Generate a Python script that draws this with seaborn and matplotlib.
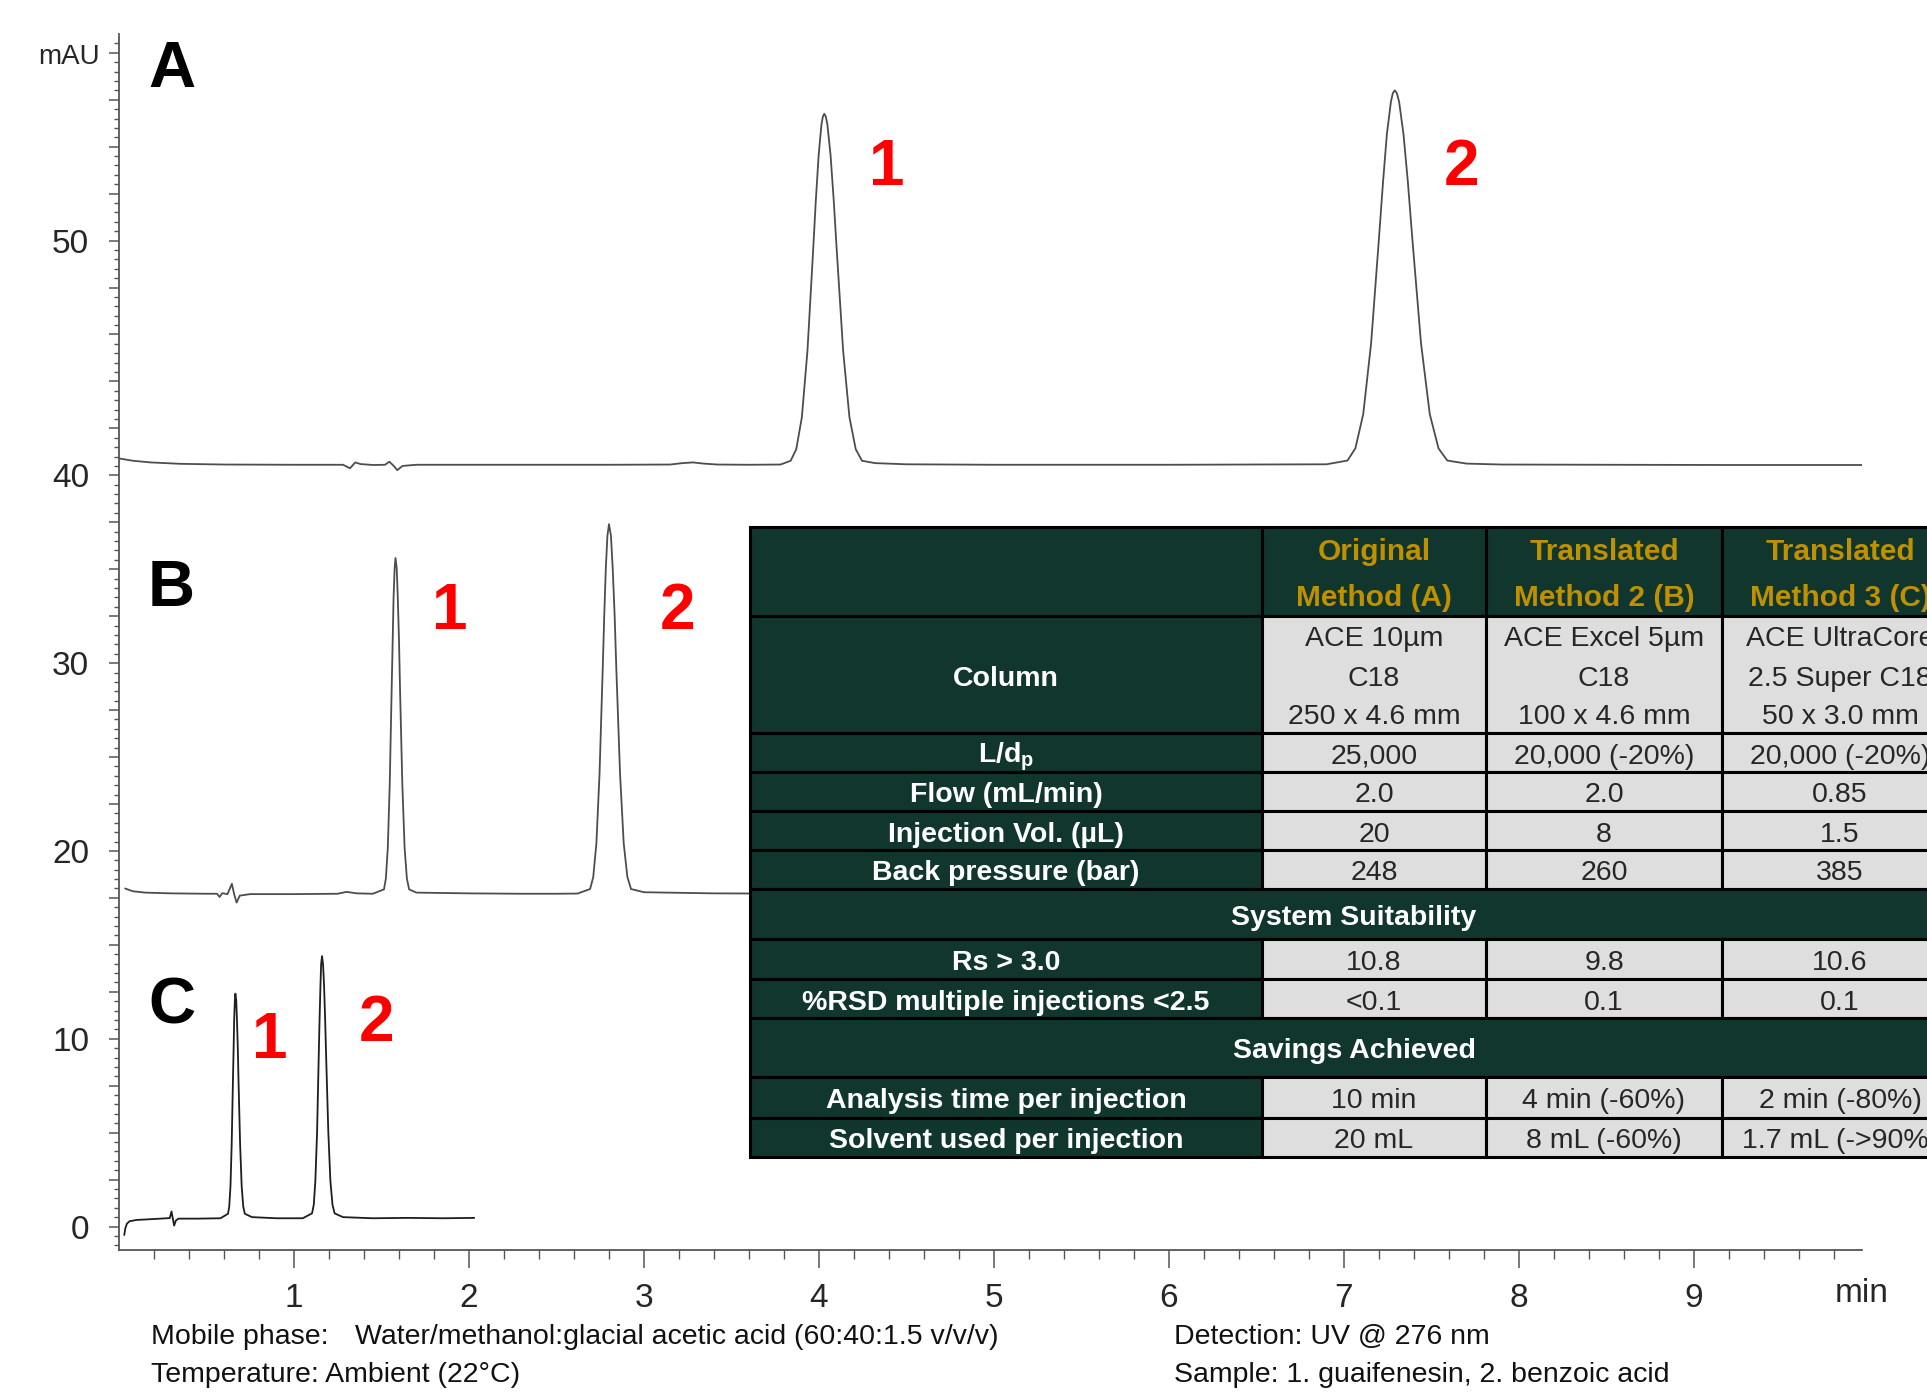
import numpy as np
import pandas as pd
import matplotlib
matplotlib.use("Agg")
import matplotlib.pyplot as plt
import seaborn as sns
from matplotlib.patches import Rectangle
from matplotlib.ticker import FixedLocator

# ── Chromatogram traces (time in min, signal in mAU) ──────────────────────────
time_a = [0.00, 0.08, 0.18, 0.35, 0.60, 1.00, 1.28, 1.32, 1.35, 1.38, 1.45, 1.52,
          1.545, 1.57, 1.59, 1.62, 1.70, 2.20, 2.80, 3.15, 3.22, 3.28, 3.34, 3.42,
          3.60, 3.78,
          3.838, 3.870, 3.902, 3.934, 3.966, 3.982, 3.998, 4.014, 4.022, 4.030, 4.039,
          4.048, 4.066, 4.084, 4.102, 4.138, 4.174, 4.210, 4.246,
          4.32, 4.50, 5.00, 6.00, 6.90,
          7.020, 7.065, 7.110, 7.155, 7.200, 7.223, 7.245, 7.268, 7.279, 7.290, 7.302,
          7.315, 7.340, 7.365, 7.390, 7.440, 7.490, 7.540, 7.590,
          7.70, 7.90, 8.50, 9.20, 9.97]
mau_a = [40.72, 40.62, 40.55, 40.49, 40.46, 40.45, 40.45, 40.30, 40.55, 40.48, 40.44, 40.45,
         40.58, 40.40, 40.22, 40.40, 40.45, 40.45, 40.45, 40.46, 40.52, 40.55, 40.50, 40.46,
         40.45, 40.46,
         40.62, 41.11, 42.47, 45.30, 49.52, 51.73, 53.64, 54.94, 55.28, 55.40, 55.28,
         54.94, 53.64, 51.73, 49.52, 45.30, 42.47, 41.11, 40.62,
         40.52, 40.47, 40.45, 40.45, 40.47,
         40.63, 41.15, 42.61, 45.63, 50.12, 52.49, 54.53, 55.91, 56.28, 56.40, 56.28,
         55.91, 54.53, 52.49, 50.12, 45.63, 42.61, 41.15, 40.63,
         40.50, 40.46, 40.45, 40.44, 40.44]

time_b = [0.035, 0.08, 0.15, 0.30, 0.50, 0.56, 0.575, 0.59, 0.62, 0.645, 0.658, 0.672,
          0.69, 0.75, 1.00, 1.25, 1.30, 1.36, 1.45,
          1.514, 1.525, 1.536, 1.547, 1.558, 1.564, 1.569, 1.575, 1.580, 1.587,
          1.593, 1.600, 1.606, 1.619, 1.632, 1.645, 1.658,
          1.70, 2.00, 2.30, 2.50, 2.62,
          2.692, 2.710, 2.728, 2.746, 2.764, 2.773, 2.782, 2.791, 2.800, 2.811,
          2.821, 2.832, 2.842, 2.863, 2.884, 2.905, 2.926,
          3.00, 3.40, 4.00]
mau_b = [18.00, 17.85, 17.78, 17.74, 17.72, 17.72, 17.55, 17.75, 17.70, 18.25, 17.70, 17.25,
         17.62, 17.70, 17.70, 17.72, 17.82, 17.74, 17.72,
         17.95, 18.53, 20.17, 23.55, 28.58, 31.22, 33.50, 35.05, 35.60, 35.05,
         33.50, 31.22, 28.58, 23.55, 20.17, 18.53, 17.95,
         17.78, 17.74, 17.72, 17.72, 17.73,
         17.97, 18.61, 20.41, 24.13, 29.67, 32.58, 35.09, 36.79, 37.40, 36.79,
         35.09, 32.58, 29.67, 24.13, 20.41, 18.61, 17.97,
         17.80, 17.74, 17.72]

time_c = [0.030, 0.036, 0.045, 0.06, 0.10, 0.20, 0.29, 0.300, 0.315, 0.325, 0.34, 0.45, 0.58,
          0.623, 0.630, 0.637, 0.644, 0.651, 0.655, 0.658, 0.662, 0.665, 0.670,
          0.674, 0.679, 0.683, 0.692, 0.701, 0.710, 0.719,
          0.76, 0.90, 1.05,
          1.103, 1.113, 1.122, 1.132, 1.141, 1.146, 1.151, 1.155, 1.160, 1.166,
          1.172, 1.178, 1.184, 1.196, 1.208, 1.220, 1.232,
          1.28, 1.45, 1.65, 1.85, 2.03]
mau_c = [-0.45, -0.10, 0.15, 0.28, 0.35, 0.40, 0.45, 0.80, 0.05, 0.32, 0.42, 0.42, 0.44,
         0.68, 1.07, 2.15, 4.40, 7.74, 9.49, 11.01, 12.03, 12.40, 12.03,
         11.01, 9.49, 7.74, 4.40, 2.15, 1.07, 0.68,
         0.50, 0.44, 0.44,
         0.70, 1.16, 2.42, 5.05, 8.95, 11.00, 12.77, 13.97, 14.40, 13.97,
         12.77, 11.00, 8.95, 5.05, 2.42, 1.16, 0.70,
         0.50, 0.44, 0.46, 0.44, 0.46]

run_labels = ["A", "B", "C"]
peak_labels = ["1", "2"]
x_ticks = [1, 2, 3, 4, 5, 6, 7, 8, 9]
y_tick_labels = [0, 10, 20, 30, 40, 50]

# ── Method comparison table ───────────────────────────────────────────────────
method_headers = ["Original\nMethod (A)", "Translated\nMethod 2 (B)", "Translated\nMethod 3 (C)"]
param_labels = ["Column", "L/d$_\\mathregular{p}$", "Flow (mL/min)",
                "Injection Vol. (µL)", "Back pressure (bar)"]
param_a = ["ACE 10µm\nC18\n250 x 4.6 mm", "25,000", "2.0", "20", "248"]
param_b = ["ACE Excel 5µm\nC18\n100 x 4.6 mm", "20,000 (-20%)", "2.0", "8", "260"]
param_c = ["ACE UltraCore\n2.5 Super C18\n50 x 3.0 mm", "20,000 (-20%)", "0.85", "1.5", "385"]
suit_labels = ["Rs > 3.0", "%RSD multiple injections <2.5"]
suit_a = ["10.8", "<0.1"]
suit_b = ["9.8", "0.1"]
suit_c = ["10.6", "0.1"]
save_labels = ["Analysis time per injection", "Solvent used per injection"]
save_a = ["10 min", "20 mL"]
save_b = ["4 min (-60%)", "8 mL (-60%)"]
save_c = ["2 min (-80%)", "1.7 mL (->90%)"]

notes_left = ["Mobile phase:", "Temperature: Ambient (22°C)"]
mobile_phase = "Water/methanol:glacial acetic acid (60:40:1.5 v/v/v)"
notes_right = ["Detection: UV @ 276 nm", "Sample: 1. guaifenesin, 2. benzoic acid"]

# ── Style ─────────────────────────────────────────────────────────────────────
sns.set_theme(style="ticks")
plt.rcParams["font.family"] = ["Liberation Sans Narrow", "Liberation Sans", "DejaVu Sans"]
plt.rcParams["mathtext.default"] = "regular"

W, H = 1927, 1394
DARK = "#10362E"
GOLD = "#BF9000"
CELL = "#DEDEDE"
AXC = "#555555"
TAB_FS = 20.5
NOTE_FS = 20.5

# the source chart stretches the axis above 40 mAU (2 mAU per tick there, 2.5 below)
Y_BREAK = 40.0


def fwd(y):
    y = np.asarray(y, dtype=float)
    return np.where(y >= Y_BREAK, 16 + (y - Y_BREAK) * 0.5, y * 0.4)


def inv(d):
    d = np.asarray(d, dtype=float)
    return np.where(d >= 16, Y_BREAK + (d - 16) * 2.0, d / 0.4)


df = pd.concat([
    pd.DataFrame({"time": time_a, "mAU": mau_a, "run": "A"}),
    pd.DataFrame({"time": time_b, "mAU": mau_b, "run": "B"}),
    pd.DataFrame({"time": time_c, "mAU": mau_c, "run": "C"}),
], ignore_index=True)

fig = plt.figure(figsize=(W / 100, H / 100), dpi=100)
ax = fig.add_axes([119 / W, 1 - 1250 / H, (1862 - 119) / W, (1250 - 34) / H])
ax.set_yscale("function", functions=(fwd, inv))

sns.lineplot(data=df, x="time", y="mAU", hue="run",
             palette={"A": "#4d4d4d", "B": "#4d4d4d", "C": "#1e1e1e"},
             estimator=None, sort=False, legend=False, lw=1.3, ax=ax)

ax.set_xlim(0, 9.96)
ax.set_ylim(-1.25, 58.8)
ax.set_xlabel("")
ax.set_ylabel("")

# axes: ticks
ax.xaxis.set_major_locator(FixedLocator(x_ticks))
ax.set_xticklabels([str(t) for t in x_ticks])
ax.xaxis.set_minor_locator(FixedLocator(np.arange(0.2, 9.9, 0.2)))

major_y = list(np.arange(0, 40.01, 2.5)) + list(np.arange(42, 58.1, 2))
ax.yaxis.set_major_locator(FixedLocator(major_y))
ax.set_yticklabels([str(int(v)) if v in y_tick_labels else "" for v in major_y])
minor_y = list(np.arange(-1.0, 40, 0.5)) + list(np.arange(40.4, 58.8, 0.4))
ax.yaxis.set_minor_locator(FixedLocator(minor_y))

ax.tick_params(axis="x", which="major", length=13, width=1.1, color=AXC,
               labelsize=24, pad=11, direction="out")
ax.tick_params(axis="x", which="minor", length=6.5, width=1.0, color=AXC, direction="out")
ax.tick_params(axis="y", which="major", length=7.5, width=1.1, color=AXC,
               labelsize=24, pad=14, direction="out")
ax.tick_params(axis="y", which="minor", length=3.8, width=1.0, color=AXC, direction="out")
sns.despine(ax=ax)
for side in ["left", "bottom"]:
    ax.spines[side].set_color(AXC)
    ax.spines[side].set_linewidth(1.3)

ax.text(1.0, -0.036, "min", transform=ax.transAxes, ha="center", va="center", fontsize=24)
ax.text(-0.011, 0.981, "mAU", transform=ax.transAxes, ha="right", va="center", fontsize=20)

# run letters and peak numbers
run_pos = [(0.30, 57.25), (0.30, 33.95), (0.30, 11.7)]
for lab, (tx, ty) in zip(run_labels, run_pos):
    ax.text(tx, ty, lab, ha="center", va="center", fontsize=47, fontweight="bold", color="black")
peak_pos = [[(4.39, 53.1), (7.67, 53.1)],
            [(1.89, 32.73), (3.19, 32.73)],
            [(0.86, 9.9), (1.47, 10.8)]]
for run in peak_pos:
    for lab, (tx, ty) in zip(peak_labels, run):
        ax.text(tx, ty, lab, ha="center", va="center", fontsize=46,
                fontweight="bold", color="#FF0000")

# ── Table overlay (pixel coordinates) ─────────────────────────────────────────
tab = fig.add_axes([0, 0, 1, 1])
tab.set_xlim(0, W)
tab.set_ylim(H, 0)
tab.axis("off")

col_x = [750, 1262, 1486, 1722, 1958]
row_y = [527, 616, 733, 772, 811, 850, 889, 939, 979, 1018, 1077, 1118, 1157]

rows = [("head", "", method_headers)]
for i, lab in enumerate(param_labels):
    rows.append(("data", lab, [param_a[i], param_b[i], param_c[i]]))
rows.append(("span", "System Suitability", None))
for i, lab in enumerate(suit_labels):
    rows.append(("data", lab, [suit_a[i], suit_b[i], suit_c[i]]))
rows.append(("span", "Savings Achieved", None))
for i, lab in enumerate(save_labels):
    rows.append(("data", lab, [save_a[i], save_b[i], save_c[i]]))

border = dict(edgecolor="black", linewidth=2.2)


def cell_text(xc, yc, txt, pitch, **kw):
    lines = txt.split("\n")
    n = len(lines)
    for k, line in enumerate(lines):
        tab.text(xc, yc + (k - (n - 1) / 2) * pitch, line, ha="center", va="center", **kw)


for r, (kind, label, vals) in enumerate(rows):
    y0, y1 = row_y[r], row_y[r + 1]
    yc = (y0 + y1) / 2
    if kind == "span":
        tab.add_patch(Rectangle((col_x[0], y0), col_x[-1] - col_x[0], y1 - y0,
                                facecolor=DARK, **border))
        tab.text((col_x[0] + col_x[-1]) / 2, yc + 4, label, ha="center", va="center",
                 fontsize=TAB_FS, fontweight="bold", color="white")
        continue
    tab.add_patch(Rectangle((col_x[0], y0), col_x[1] - col_x[0], y1 - y0,
                            facecolor=DARK, **border))
    if label:
        tab.text((col_x[0] + col_x[1]) / 2, yc + 4, label, ha="center", va="center",
                 fontsize=TAB_FS, fontweight="bold", color="white")
    for c, val in enumerate(vals):
        xa, xb = col_x[c + 1], col_x[c + 2]
        face = DARK if kind == "head" else CELL
        tab.add_patch(Rectangle((xa, y0), xb - xa, y1 - y0, facecolor=face, **border))
        if kind == "head":
            cell_text((xa + xb) / 2, yc + 3, val, 46, fontsize=TAB_FS + 1,
                      fontweight="bold", color=GOLD)
        else:
            cell_text((xa + xb) / 2, yc + 4, val, 39, fontsize=TAB_FS, color="#262626")

# ── Footnotes ────────────────────────────────────────────────────────────────
tab.text(151, 1337, notes_left[0], ha="left", va="center", fontsize=NOTE_FS, color="#111111")
tab.text(355, 1337, mobile_phase, ha="left", va="center", fontsize=NOTE_FS, color="#111111")
tab.text(151, 1375, notes_left[1], ha="left", va="center", fontsize=NOTE_FS, color="#111111")
tab.text(1174, 1337, notes_right[0], ha="left", va="center", fontsize=NOTE_FS, color="#111111")
tab.text(1174, 1375, notes_right[1], ha="left", va="center", fontsize=NOTE_FS, color="#111111")

fig.savefig("out.png", dpi=100)
